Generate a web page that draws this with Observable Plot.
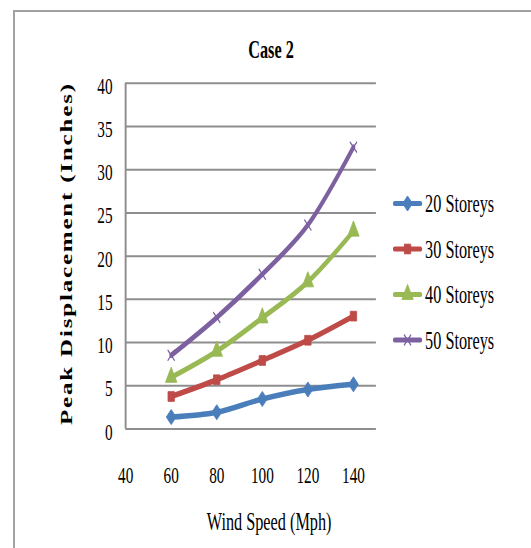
<!DOCTYPE html>
<html><head><meta charset="utf-8">
<script src="https://cdn.jsdelivr.net/npm/d3@7"></script>
<script src="https://cdn.jsdelivr.net/npm/@observablehq/plot@0.6"></script>
<style>
html,body{margin:0;padding:0;background:#fff;overflow:hidden;width:531px;height:548px;}
#wrap{position:absolute;left:0;top:0;width:817px;height:548px;transform:scaleX(0.65);transform-origin:0 0;font-family:"Liberation Serif","Times New Roman",serif;color:#000;}
#frame{position:absolute;left:20px;top:10px;width:2000px;height:2000px;border-left:3px solid #a0a0a0;border-top:2px solid #a0a0a0;}
#plot{position:absolute;left:0;top:0;}
</style></head><body>
<div id="wrap"><div id="frame"></div><div id="plot"></div></div>
<script>
// ---- data ----
const speeds = [60, 80, 100, 120, 140];
const storeys20 = [1.38, 1.94, 3.47, 4.57, 5.17];
const storeys30 = [3.76, 5.7, 7.93, 10.27, 13.06];
const storeys40 = [5.98, 9.0, 12.86, 17.03, 22.9];
const storeys50 = [8.53, 12.9, 17.9, 23.6, 32.6];
const seriesNames = ["20 Storeys", "30 Storeys", "40 Storeys", "50 Storeys"];
const xTicks = [40, 60, 80, 100, 120, 140];
const yTicks = [0, 5, 10, 15, 20, 25, 30, 35, 40];
const titleText = "Case 2";
const xLabel = "Wind Speed (Mph)";
const yLabel = "Peak Displacement (Inches)";

const colors = ["#4A7EBB", "#BE4B48", "#98B954", "#7D60A0"];
const symbols = ["diamond2", "square", "triangle", "times"];
const d3symbols = [d3.symbolDiamond2, d3.symbolSquare, d3.symbolTriangle, d3.symbolTimes];
const radii = [6.8, 5.5, 6.5, 5];

const allValues = [storeys20, storeys30, storeys40, storeys50];
const rows = seriesNames.flatMap((s, i) => speeds.map((x, j) => ({series: s, speed: x, value: allValues[i][j]})));

const W = 817, H = 548;
const top0 = 82.8, bottom0 = 428.5, left0 = 125.3 / 0.65, right0 = 375.9 / 0.65;
const grid = "#8e8e8e";

const dotMarks = seriesNames.map((s, i) => Plot.dot(rows.filter(d => d.series === s), {
  x: "speed", y: "value", symbol: () => symbols[i], r: radii[i],
  fill: i === 3 ? "none" : colors[i], stroke: colors[i], strokeWidth: i === 3 ? 1.6 : 1
}));

const chart = Plot.plot({
  width: W, height: H,
  marginTop: top0, marginBottom: H - bottom0, marginLeft: left0, marginRight: W - right0,
  x: {domain: [40, 150]},
  y: {domain: [0, 40]},
  color: {domain: seriesNames, range: colors},
  symbol: {domain: symbols, range: symbols},
  style: {fontFamily: '"Liberation Serif","Times New Roman",serif', fontSize: "23px", background: "transparent", color: "#000"},
  marks: [
    Plot.ruleY(yTicks, {stroke: grid, strokeWidth: 2}),
    Plot.ruleX([40], {stroke: grid, strokeWidth: 3}),
    Plot.axisX({ticks: xTicks, tickSize: 0, tickPadding: 37, fontSize: 23.5, label: null}),
    Plot.axisY({ticks: yTicks, tickSize: 0, tickPadding: 20, fontSize: 23.5, label: null, dy: 3}),
    Plot.line(rows, {x: "speed", y: "value", z: "series", stroke: "series", strokeWidth: 5.5, curve: "catmull-rom", strokeLinejoin: "round", strokeLinecap: "round"}),
    ...dotMarks
  ]
});
document.getElementById("plot").appendChild(chart);

const svg = d3.select(chart);
const ff = '"Liberation Serif","Times New Roman",serif';
// title
svg.append("text").attr("x", 417).attr("y", 58).attr("text-anchor", "middle")
  .attr("font-family", ff).attr("font-weight", "bold").attr("font-size", 25).attr("fill", "#000").text(titleText);
// x label
svg.append("text").attr("x", 414).attr("y", 530).attr("text-anchor", "middle")
  .attr("font-family", ff).attr("font-size", 25).attr("fill", "#000").text(xLabel);
// y label
svg.append("text").attr("transform", "translate(111.5,254.5) rotate(-90)").attr("text-anchor", "middle")
  .attr("font-family", ff).attr("font-weight", "bold").attr("font-size", 25).attr("fill", "#000")
  .attr("textLength", 341).attr("lengthAdjust", "spacing").text(yLabel);
// legend
const lg = svg.append("g");
const rowY = [203.5, 249, 294.5, 340];
seriesNames.forEach((s, i) => {
  const g = lg.append("g").attr("transform", `translate(0,${rowY[i]})`);
  g.append("line").attr("x1", 607).attr("x2", 647).attr("y1", 0).attr("y2", 0)
    .attr("stroke", colors[i]).attr("stroke-width", 5).attr("stroke-linecap", "round");
  g.append("path").attr("transform", "translate(627,0)")
    .attr("d", d3.symbol().type(d3symbols[i]).size(Math.PI * radii[i] * radii[i])())
    .attr("fill", i === 3 ? "none" : colors[i]).attr("stroke", colors[i]).attr("stroke-width", i === 3 ? 1.6 : 1);
  g.append("text").attr("x", 654).attr("y", 8.5).attr("text-anchor", "start")
    .attr("font-family", ff).attr("font-size", 25).attr("fill", "#000").text(s);
});
</script>
</body></html>
